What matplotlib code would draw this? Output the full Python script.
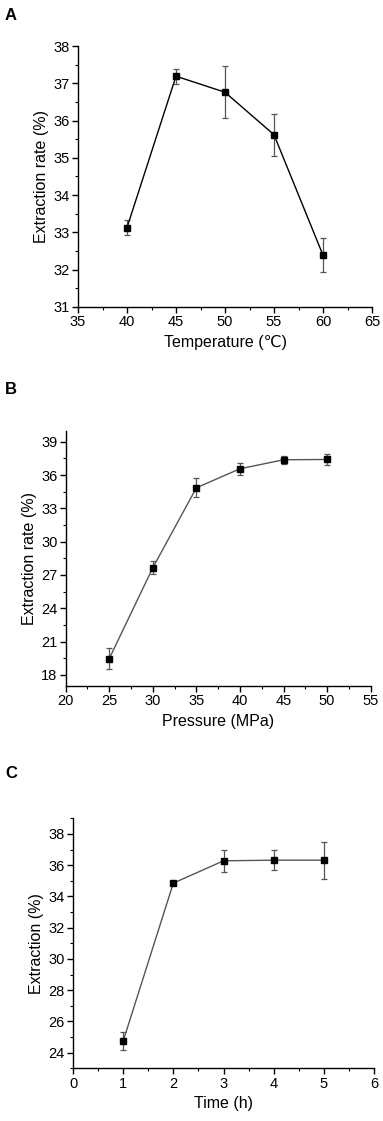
import matplotlib
matplotlib.use("Agg")
import matplotlib.pyplot as plt
from matplotlib.ticker import MultipleLocator

plt.rcParams['font.family'] = ['Liberation Sans', 'DejaVu Sans']

# Panel A
temp = [40, 45, 50, 55, 60]
rate_a = [33.13, 37.19, 36.76, 35.62, 32.39]
err_a = [0.20, 0.20, 0.70, 0.56, 0.46]

# Panel B
pressure = [25, 30, 35, 40, 45, 50]
rate_b = [19.47, 27.66, 34.86, 36.57, 37.38, 37.41]
err_b = [0.95, 0.58, 0.84, 0.53, 0.35, 0.48]

# Panel C
time_h = [1, 2, 3, 4, 5]
rate_c = [24.74, 34.85, 36.28, 36.32, 36.32]
err_c = [0.56, 0.05, 0.70, 0.63, 1.18]

W, H = 383, 1121
fig = plt.figure(figsize=(W/100, H/100), dpi=100)

def mk_ax(l, r, t, b):
    return fig.add_axes([l/W, 1-b/H, (r-l)/W, (b-t)/H])

panels = [
    dict(box=(78, 372, 46, 307), x=temp, y=rate_a, e=err_a, xlim=(35, 65), ylim=(31, 38),
         xmaj=5, xmin=2.5, ymaj=1, ymin=0.5, xlabel='Temperature (℃)', ylabel='Extraction rate (%)',
         lc='black', letter='A', ly=15, ms=5),
    dict(box=(65.7, 370.7, 430.7, 686), x=pressure, y=rate_b, e=err_b, xlim=(20, 55), ylim=(17, 40),
         xmaj=5, xmin=2.5, ymaj=3, ymin=1.5, xlabel='Pressure (MPa)', ylabel='Extraction rate (%)',
         lc='#555555', letter='B', ly=389, yticks=[18, 21, 24, 27, 30, 33, 36, 39], ms=4),
    dict(box=(73, 374, 818.3, 1068.3), x=time_h, y=rate_c, e=err_c, xlim=(0, 6), ylim=(23, 39),
         xmaj=1, xmin=0.5, ymaj=2, ymin=1, xlabel='Time (h)', ylabel='Extraction (%)',
         lc='#555555', letter='C', ly=773, yticks=[24, 26, 28, 30, 32, 34, 36, 38], ms=5),
]

for p in panels:
    ax = mk_ax(*p['box'])
    ax.errorbar(p['x'], p['y'], yerr=p['e'], fmt='none', ecolor='#555555',
                elinewidth=0.9, capsize=2, capthick=0.9, zorder=2)
    ax.plot(p['x'], p['y'], color=p['lc'], lw=1.0, marker='s', ms=p['ms'],
            mfc='black', mec='black', zorder=3)
    ax.set_xlim(*p['xlim'])
    ax.set_ylim(*p['ylim'])
    ax.xaxis.set_major_locator(MultipleLocator(p['xmaj']))
    ax.xaxis.set_minor_locator(MultipleLocator(p['xmin']))
    if 'yticks' in p:
        ax.set_yticks(p['yticks'])
    else:
        ax.yaxis.set_major_locator(MultipleLocator(p['ymaj']))
    ax.yaxis.set_minor_locator(MultipleLocator(p['ymin']))
    for s in ['top', 'right']:
        ax.spines[s].set_visible(False)
    for s in ['left', 'bottom']:
        ax.spines[s].set_linewidth(1.0)
    ax.tick_params(which='major', direction='out', length=4, width=1, labelsize=10.5, pad=2)
    ax.tick_params(which='minor', direction='out', length=2.5, width=0.8)
    ax.set_xlabel(p['xlabel'], fontsize=11.5, labelpad=4)
    ax.set_ylabel(p['ylabel'], fontsize=11.5, labelpad=3)
    fig.text(5/W, 1-p['ly']/H, p['letter'], fontsize=12, fontweight='bold', va='center', ha='left')

fig.savefig('out.png', dpi=100)
